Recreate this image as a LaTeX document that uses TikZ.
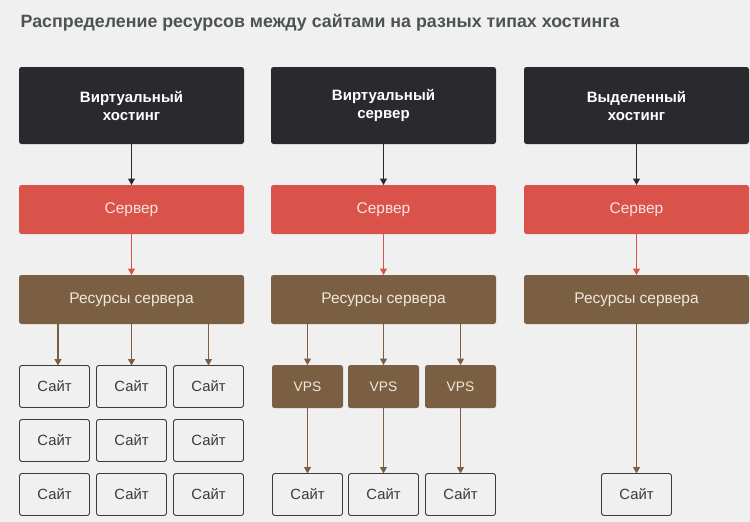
\documentclass[tikz,border=0pt]{standalone}
\usepackage{fontspec}
\setmainfont{Liberation Sans}
\usetikzlibrary{arrows.meta}
\definecolor{bgc}{HTML}{F0F0F0}
\definecolor{darkc}{HTML}{2A2A2E}
\definecolor{redc}{HTML}{D9534B}
\definecolor{brownc}{HTML}{7B5F43}
\definecolor{titlec}{HTML}{4D5355}
\definecolor{sitec}{HTML}{3A3A3A}
\definecolor{redtxt}{HTML}{FBE3E0}
\definecolor{browntxt}{HTML}{F1E8DE}
\tikzset{
  box/.style={rectangle, rounded corners=2.5pt, inner sep=0pt, outer sep=0pt, align=center},
  topbox/.style={box, fill=darkc, text=white, font=\bfseries\fontsize{15}{18}\selectfont, minimum width=225pt, minimum height=77pt},
  srvbox/.style={box, fill=redc, text=redtxt, font=\fontsize{15.5}{18}\selectfont, minimum width=225pt, minimum height=49pt},
  resbox/.style={box, fill=brownc, text=browntxt, font=\fontsize{15.5}{18}\selectfont, minimum width=225pt, minimum height=49pt},
  vpsbox/.style={box, fill=brownc, text=browntxt, font=\fontsize{13.8}{16}\selectfont, minimum width=71pt, minimum height=43pt},
  sitebox/.style={box, draw=sitec, line width=0.9pt, fill=bgc, text=sitec, font=\fontsize{14.8}{17}\selectfont, minimum width=70pt, minimum height=42pt},
  arr/.style={line width=1.2pt, -{Triangle[width=7pt,length=6.5pt]}},
}
\begin{document}
\begin{tikzpicture}[x=1pt,y=1pt]
\fill[bgc] (0,0) rectangle (750,-522);
\useasboundingbox (0,0) rectangle (750,-522);
\node[anchor=base west, inner sep=0pt, text=titlec, font=\bfseries\fontsize{17.8}{21}\selectfont] (title) at (20.5,-27.7) {Распределение ресурсов между сайтами на разных типах хостинга};

% column 1
\node[topbox] (t1) at (131.5,-105.5) {Виртуальный\\хостинг};
\node[srvbox] (s1) at (131.5,-209.5) {Сервер};
\node[resbox] (r1) at (131.5,-299.5) {Ресурсы сервера};
% column 2
\node[topbox] (t2) at (383.5,-105.5) {Виртуальный\\сервер};
\node[srvbox] (s2) at (383.5,-209.5) {Сервер};
\node[resbox] (r2) at (383.5,-299.5) {Ресурсы сервера};
% column 3
\node[topbox] (t3) at (636.5,-105.5) {Выделенный\\хостинг};
\node[srvbox] (s3) at (636.5,-209.5) {Сервер};
\node[resbox] (r3) at (636.5,-299.5) {Ресурсы сервера};

\foreach \i in {1,2,3}{
  \draw[arr, darkc] (t\i) -- (s\i);
  \draw[arr, redc] (s\i) -- (r\i);
}

% sites column 1
\node[sitebox] (a11) at (54.5,-386.5) {Сайт};
\node[sitebox] (a12) at (131.5,-386.5) {Сайт};
\node[sitebox] (a13) at (208.5,-386.5) {Сайт};
\node[sitebox] (a21) at (54.5,-440.5) {Сайт};
\node[sitebox] (a22) at (131.5,-440.5) {Сайт};
\node[sitebox] (a23) at (208.5,-440.5) {Сайт};
\node[sitebox] (a31) at (54.5,-494.5) {Сайт};
\node[sitebox] (a32) at (131.5,-494.5) {Сайт};
\node[sitebox] (a33) at (208.5,-494.5) {Сайт};
\draw[arr, brownc] ([xshift=3.5pt]r1.south -| a11) -- ([xshift=3.5pt]a11.north);
\draw[arr, brownc] (r1.south -| a12) -- (a12.north);
\draw[arr, brownc] (r1.south -| a13) -- (a13.north);

% column 2 VPS
\node[vpsbox] (v1) at (307.5,-386.5) {VPS};
\node[vpsbox] (v2) at (383.5,-386.5) {VPS};
\node[vpsbox] (v3) at (460.5,-386.5) {VPS};
\node[sitebox] (b1) at (307.5,-494.5) {Сайт};
\node[sitebox] (b2) at (383.5,-494.5) {Сайт};
\node[sitebox] (b3) at (460.5,-494.5) {Сайт};
\foreach \j in {1,2,3}{
  \draw[arr, brownc] (r2.south -| v\j) -- (v\j.north);
  \draw[arr, brownc] (v\j) -- (b\j);
}

% column 3
\node[sitebox] (c1) at (636.5,-494.5) {Сайт};
\draw[arr, brownc] (r3) -- (c1);
\end{tikzpicture}
\end{document}
